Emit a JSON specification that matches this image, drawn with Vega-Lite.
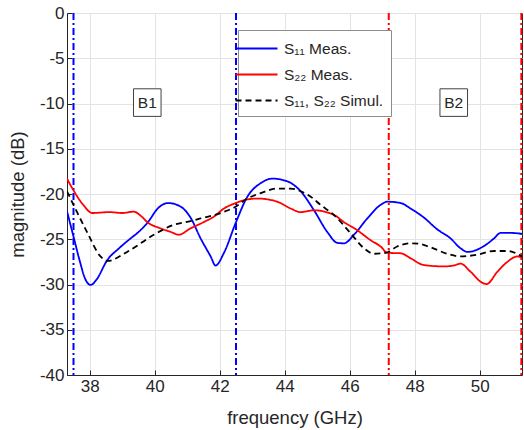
{
  "$schema": "https://vega.github.io/schema/vega-lite/v6.json",
  "width": 455,
  "height": 362,
  "autosize": {"type": "none"},
  "padding": {"left": 67, "top": 13, "right": 2, "bottom": 55},
  "background": "white",
  "config": {
    "font": "Liberation Sans",
    "view": {"stroke": "#262626", "strokeWidth": 1},
    "axis": {
      "gridColor": "#e3e3e3",
      "gridWidth": 1,
      "domainColor": "#262626",
      "tickColor": "#262626",
      "labelColor": "#262626",
      "titleColor": "#262626",
      "labelFont": "Liberation Sans",
      "titleFont": "Liberation Sans",
      "labelFontSize": 17,
      "titleFontSize": 18.5,
      "titleFontWeight": "normal",
      "tickSize": -5
    }
  },
  "datasets": {
    "curves": [
      {"f": 37.3, "db": -21.9, "series": "S₁₁ Meas."},
      {"f": 37.5, "db": -24.7, "series": "S₁₁ Meas."},
      {"f": 37.7, "db": -27.5, "series": "S₁₁ Meas."},
      {"f": 37.85, "db": -29.3, "series": "S₁₁ Meas."},
      {"f": 38.03, "db": -30.05, "series": "S₁₁ Meas."},
      {"f": 38.2, "db": -29.5, "series": "S₁₁ Meas."},
      {"f": 38.54, "db": -27.3, "series": "S₁₁ Meas."},
      {"f": 38.9, "db": -26.0, "series": "S₁₁ Meas."},
      {"f": 39.26, "db": -24.9, "series": "S₁₁ Meas."},
      {"f": 39.5, "db": -24.2, "series": "S₁₁ Meas."},
      {"f": 39.77, "db": -23.2, "series": "S₁₁ Meas."},
      {"f": 40.12, "db": -21.5, "series": "S₁₁ Meas."},
      {"f": 40.41, "db": -21.0, "series": "S₁₁ Meas."},
      {"f": 40.8, "db": -21.4, "series": "S₁₁ Meas."},
      {"f": 41.1, "db": -22.6, "series": "S₁₁ Meas."},
      {"f": 41.41, "db": -24.9, "series": "S₁₁ Meas."},
      {"f": 41.72, "db": -26.9, "series": "S₁₁ Meas."},
      {"f": 41.87, "db": -27.9, "series": "S₁₁ Meas."},
      {"f": 42.13, "db": -26.5, "series": "S₁₁ Meas."},
      {"f": 42.49, "db": -23.2, "series": "S₁₁ Meas."},
      {"f": 42.85, "db": -20.3, "series": "S₁₁ Meas."},
      {"f": 43.26, "db": -18.8, "series": "S₁₁ Meas."},
      {"f": 43.62, "db": -18.3, "series": "S₁₁ Meas."},
      {"f": 44.08, "db": -18.6, "series": "S₁₁ Meas."},
      {"f": 44.49, "db": -19.7, "series": "S₁₁ Meas."},
      {"f": 44.9, "db": -21.8, "series": "S₁₁ Meas."},
      {"f": 45.31, "db": -24.2, "series": "S₁₁ Meas."},
      {"f": 45.62, "db": -25.4, "series": "S₁₁ Meas."},
      {"f": 45.82, "db": -25.45, "series": "S₁₁ Meas."},
      {"f": 46.13, "db": -24.5, "series": "S₁₁ Meas."},
      {"f": 46.54, "db": -22.7, "series": "S₁₁ Meas."},
      {"f": 46.95, "db": -21.2, "series": "S₁₁ Meas."},
      {"f": 47.16, "db": -20.85, "series": "S₁₁ Meas."},
      {"f": 47.57, "db": -21.0, "series": "S₁₁ Meas."},
      {"f": 47.87, "db": -21.6, "series": "S₁₁ Meas."},
      {"f": 48.28, "db": -22.6, "series": "S₁₁ Meas."},
      {"f": 48.69, "db": -23.9, "series": "S₁₁ Meas."},
      {"f": 49.1, "db": -24.9, "series": "S₁₁ Meas."},
      {"f": 49.41, "db": -26.0, "series": "S₁₁ Meas."},
      {"f": 49.62, "db": -26.4, "series": "S₁₁ Meas."},
      {"f": 50.13, "db": -25.75, "series": "S₁₁ Meas."},
      {"f": 50.44, "db": -24.9, "series": "S₁₁ Meas."},
      {"f": 50.64, "db": -24.3, "series": "S₁₁ Meas."},
      {"f": 50.95, "db": -24.3, "series": "S₁₁ Meas."},
      {"f": 51.3, "db": -24.4, "series": "S₁₁ Meas."},
      {"f": 37.3, "db": -18.3, "series": "S₂₂ Meas."},
      {"f": 37.5, "db": -19.6, "series": "S₂₂ Meas."},
      {"f": 37.8, "db": -21.2, "series": "S₂₂ Meas."},
      {"f": 38.08, "db": -22.1, "series": "S₂₂ Meas."},
      {"f": 38.6, "db": -22.0, "series": "S₂₂ Meas."},
      {"f": 39.0, "db": -22.1, "series": "S₂₂ Meas."},
      {"f": 39.35, "db": -21.95, "series": "S₂₂ Meas."},
      {"f": 39.6, "db": -22.5, "series": "S₂₂ Meas."},
      {"f": 39.77, "db": -23.1, "series": "S₂₂ Meas."},
      {"f": 40.18, "db": -23.8, "series": "S₂₂ Meas."},
      {"f": 40.5, "db": -24.2, "series": "S₂₂ Meas."},
      {"f": 40.74, "db": -24.5, "series": "S₂₂ Meas."},
      {"f": 41.1, "db": -23.8, "series": "S₂₂ Meas."},
      {"f": 41.51, "db": -23.1, "series": "S₂₂ Meas."},
      {"f": 41.82, "db": -22.5, "series": "S₂₂ Meas."},
      {"f": 42.13, "db": -21.6, "series": "S₂₂ Meas."},
      {"f": 42.49, "db": -21.0, "series": "S₂₂ Meas."},
      {"f": 42.85, "db": -20.6, "series": "S₂₂ Meas."},
      {"f": 43.16, "db": -20.5, "series": "S₂₂ Meas."},
      {"f": 43.77, "db": -20.85, "series": "S₂₂ Meas."},
      {"f": 44.18, "db": -21.6, "series": "S₂₂ Meas."},
      {"f": 44.49, "db": -22.0, "series": "S₂₂ Meas."},
      {"f": 44.9, "db": -21.8, "series": "S₂₂ Meas."},
      {"f": 45.51, "db": -22.3, "series": "S₂₂ Meas."},
      {"f": 45.82, "db": -23.1, "series": "S₂₂ Meas."},
      {"f": 46.23, "db": -24.0, "series": "S₂₂ Meas."},
      {"f": 46.64, "db": -25.1, "series": "S₂₂ Meas."},
      {"f": 46.95, "db": -25.8, "series": "S₂₂ Meas."},
      {"f": 47.16, "db": -26.5, "series": "S₂₂ Meas."},
      {"f": 47.57, "db": -26.55, "series": "S₂₂ Meas."},
      {"f": 47.87, "db": -27.1, "series": "S₂₂ Meas."},
      {"f": 48.28, "db": -27.85, "series": "S₂₂ Meas."},
      {"f": 48.9, "db": -28.0, "series": "S₂₂ Meas."},
      {"f": 49.2, "db": -27.9, "series": "S₂₂ Meas."},
      {"f": 49.41, "db": -27.7, "series": "S₂₂ Meas."},
      {"f": 49.72, "db": -28.6, "series": "S₂₂ Meas."},
      {"f": 50.03, "db": -29.7, "series": "S₂₂ Meas."},
      {"f": 50.21, "db": -29.95, "series": "S₂₂ Meas."},
      {"f": 50.54, "db": -28.6, "series": "S₂₂ Meas."},
      {"f": 50.85, "db": -27.5, "series": "S₂₂ Meas."},
      {"f": 51.15, "db": -26.9, "series": "S₂₂ Meas."},
      {"f": 51.3, "db": -27.0, "series": "S₂₂ Meas."},
      {"f": 37.3, "db": -19.7, "series": "S₁₁, S₂₂ Simul."},
      {"f": 37.5, "db": -21.2, "series": "S₁₁, S₂₂ Simul."},
      {"f": 37.93, "db": -24.3, "series": "S₁₁, S₂₂ Simul."},
      {"f": 38.33, "db": -26.9, "series": "S₁₁, S₂₂ Simul."},
      {"f": 38.54, "db": -27.4, "series": "S₁₁, S₂₂ Simul."},
      {"f": 39.15, "db": -26.4, "series": "S₁₁, S₂₂ Simul."},
      {"f": 39.97, "db": -24.5, "series": "S₁₁, S₂₂ Simul."},
      {"f": 40.59, "db": -23.4, "series": "S₁₁, S₂₂ Simul."},
      {"f": 41.1, "db": -23.0, "series": "S₁₁, S₂₂ Simul."},
      {"f": 41.41, "db": -22.7, "series": "S₁₁, S₂₂ Simul."},
      {"f": 42.03, "db": -22.1, "series": "S₁₁, S₂₂ Simul."},
      {"f": 42.49, "db": -21.4, "series": "S₁₁, S₂₂ Simul."},
      {"f": 42.85, "db": -20.5, "series": "S₁₁, S₂₂ Simul."},
      {"f": 43.26, "db": -19.9, "series": "S₁₁, S₂₂ Simul."},
      {"f": 43.77, "db": -19.4, "series": "S₁₁, S₂₂ Simul."},
      {"f": 44.18, "db": -19.4, "series": "S₁₁, S₂₂ Simul."},
      {"f": 44.49, "db": -19.7, "series": "S₁₁, S₂₂ Simul."},
      {"f": 44.8, "db": -20.3, "series": "S₁₁, S₂₂ Simul."},
      {"f": 45.1, "db": -21.2, "series": "S₁₁, S₂₂ Simul."},
      {"f": 45.51, "db": -22.3, "series": "S₁₁, S₂₂ Simul."},
      {"f": 46.03, "db": -24.35, "series": "S₁₁, S₂₂ Simul."},
      {"f": 46.44, "db": -26.0, "series": "S₁₁, S₂₂ Simul."},
      {"f": 46.74, "db": -26.6, "series": "S₁₁, S₂₂ Simul."},
      {"f": 47.1, "db": -26.5, "series": "S₁₁, S₂₂ Simul."},
      {"f": 47.46, "db": -25.8, "series": "S₁₁, S₂₂ Simul."},
      {"f": 47.87, "db": -25.45, "series": "S₁₁, S₂₂ Simul."},
      {"f": 48.13, "db": -25.5, "series": "S₁₁, S₂₂ Simul."},
      {"f": 48.49, "db": -25.9, "series": "S₁₁, S₂₂ Simul."},
      {"f": 49.0, "db": -26.6, "series": "S₁₁, S₂₂ Simul."},
      {"f": 49.41, "db": -26.9, "series": "S₁₁, S₂₂ Simul."},
      {"f": 49.93, "db": -26.7, "series": "S₁₁, S₂₂ Simul."},
      {"f": 50.44, "db": -26.3, "series": "S₁₁, S₂₂ Simul."},
      {"f": 50.85, "db": -26.3, "series": "S₁₁, S₂₂ Simul."},
      {"f": 51.3, "db": -26.9, "series": "S₁₁, S₂₂ Simul."}
    ],
    "vblue": [{"f": 37.5}, {"f": 42.5}],
    "vred": [{"f": 47.2}, {"f": 51.28}],
    "boxes": [
      {"f": 39.77, "db": -9.9, "label": "B1"},
      {"f": 49.2, "db": -9.9, "label": "B2"}
    ]
  },
  "layer": [
    {
      "data": {"name": "vblue"},
      "mark": {"type": "rule", "color": "#0000ff", "strokeWidth": 2, "strokeDash": [7, 3, 2, 3]},
      "encoding": {
        "x": {
          "field": "f", "type": "quantitative",
          "scale": {"domain": [37.3, 51.3], "nice": false, "zero": false},
          "axis": {"values": [38, 40, 42, 44, 46, 48, 50], "labelExpr": "toString(datum.value)", "title": "frequency (GHz)", "labelPadding": 8, "titlePadding": 14, "grid": true}
        }
      }
    },
    {
      "data": {"name": "vred"},
      "mark": {"type": "rule", "color": "#ff0000", "strokeWidth": 2, "strokeDash": [7, 3, 2, 3]},
      "encoding": {
        "x": {"field": "f", "type": "quantitative"}
      }
    },
    {
      "data": {"name": "curves"},
      "mark": {"type": "line", "strokeWidth": 1.8, "interpolate": "monotone", "clip": true},
      "encoding": {
        "x": {"field": "f", "type": "quantitative"},
        "y": {
          "field": "db", "type": "quantitative",
          "scale": {"domain": [-40, 0], "nice": false, "zero": false},
          "axis": {"values": [-40, -35, -30, -25, -20, -15, -10, -5, 0], "labelExpr": "toString(datum.value)", "title": "magnitude (dB)", "labelPadding": 8, "titlePadding": 12, "grid": true}
        },
        "color": {
          "field": "series", "type": "nominal",
          "scale": {"domain": ["S₁₁ Meas.", "S₂₂ Meas.", "S₁₁, S₂₂ Simul."], "range": ["#0000ff", "#ff0000", "#000000"]},
          "legend": {
            "title": null,
            "orient": "none",
            "legendX": 171,
            "legendY": 17,
            "symbolType": "M-2,0H2",
            "symbolSize": 441,
            "symbolStrokeWidth": 1.8,
            "labelFontSize": 15.5,
            "labelFont": "Liberation Sans",
            "labelColor": "#262626",
            "labelOffset": 16,
            "rowPadding": 6,
            "padding": 7,
            "offset": 0,
            "strokeColor": "#8c8c8c",
            "fillColor": "white"
          }
        },
        "strokeDash": {
          "field": "series", "type": "nominal",
          "scale": {"domain": ["S₁₁ Meas.", "S₂₂ Meas.", "S₁₁, S₂₂ Simul."], "range": [[1, 0], [1, 0], [6, 4]]},
          "legend": null
        }
      }
    },
    {
      "data": {"name": "boxes"},
      "mark": {"type": "point", "shape": "square", "size": 760, "filled": true, "fill": "white", "stroke": "#404040", "strokeWidth": 1, "opacity": 1},
      "encoding": {
        "x": {"field": "f", "type": "quantitative"},
        "y": {"field": "db", "type": "quantitative"}
      }
    },
    {
      "data": {"name": "boxes"},
      "mark": {"type": "text", "fontSize": 15.5, "font": "Liberation Sans", "color": "#262626", "baseline": "middle", "align": "center"},
      "encoding": {
        "x": {"field": "f", "type": "quantitative"},
        "y": {"field": "db", "type": "quantitative"},
        "text": {"field": "label"}
      }
    }
  ]
}
